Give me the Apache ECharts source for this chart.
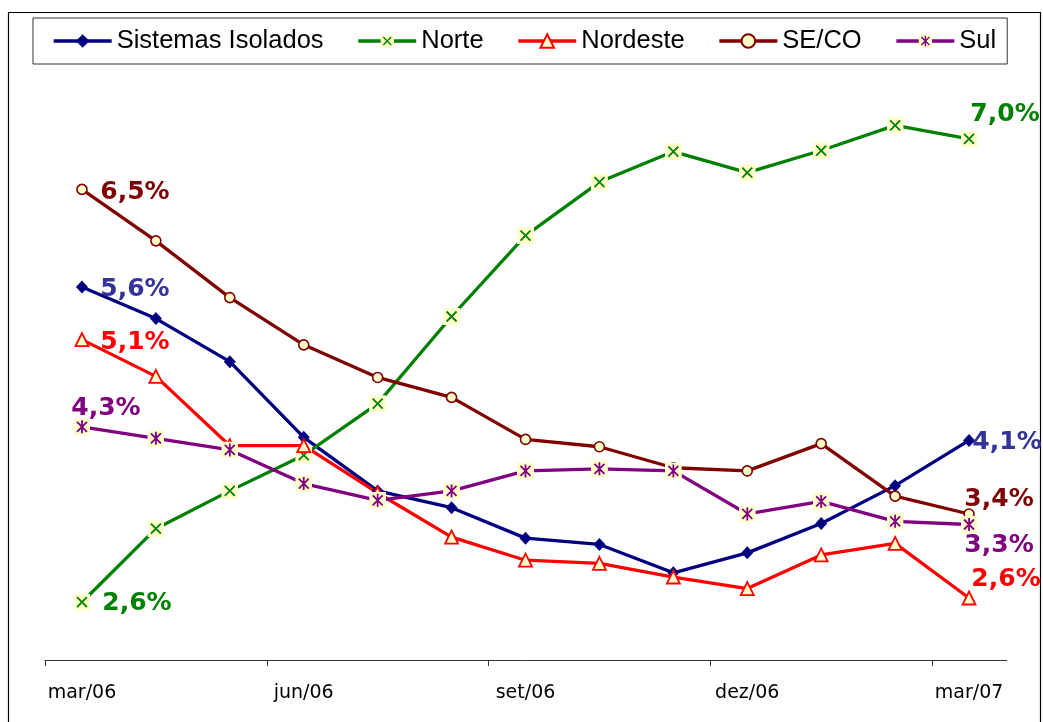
<!DOCTYPE html>
<html>
<head>
<meta charset="utf-8">
<script src="https://cdn.jsdelivr.net/npm/echarts@6/dist/echarts.min.js"></script>
<style>
html,body{margin:0;padding:0;background:#fff;}
#chart{width:1043px;height:722px;}
</style>
</head>
<body>
<div id="chart"></div>
<script>
// ---- Data ----
const categories = ['mar/06','abr/06','mai/06','jun/06','jul/06','ago/06','set/06','out/06','nov/06','dez/06','jan/07','fev/07','mar/07'];
const seriesNames = ['Sistemas Isolados','Norte','Nordeste','SE/CO','Sul'];
const sistemasIsolados = [5.60, 5.30, 4.89, 4.17, 3.66, 3.50, 3.21, 3.15, 2.88, 3.07, 3.35, 3.71, 4.14];
const norte            = [2.60, 3.30, 3.66, 4.00, 4.49, 5.32, 6.09, 6.60, 6.89, 6.69, 6.90, 7.14, 7.01];
const nordeste         = [5.10, 4.75, 4.09, 4.09, 3.64, 3.22, 3.00, 2.97, 2.84, 2.73, 3.05, 3.16, 2.64];
const seco             = [6.53, 6.04, 5.50, 5.05, 4.74, 4.55, 4.15, 4.08, 3.88, 3.85, 4.11, 3.61, 3.44];
const sul              = [4.27, 4.16, 4.05, 3.73, 3.57, 3.66, 3.85, 3.87, 3.85, 3.44, 3.56, 3.37, 3.34];

// ---- Styling ----
const FILL = '#FFFFCC';
function svgIcon(body){
  return 'image://data:image/svg+xml;charset=utf-8,' + encodeURIComponent(
    '<svg xmlns="http://www.w3.org/2000/svg" width="17" height="17" viewBox="0 0 17 17">' +
    '<rect x="0" y="0" width="17" height="17" fill="' + FILL + '"/>' + body + '</svg>');
}
const crossIcon = svgIcon('<path d="M3.5 3.5L13.5 13.5M13.5 3.5L3.5 13.5" stroke="#008000" stroke-width="1.8" fill="none"/>');
const starIcon = svgIcon('<path d="M3.5 3.5L13.5 13.5M13.5 3.5L3.5 13.5M8.5 2L8.5 15" stroke="#800080" stroke-width="1.8" fill="none"/>');

const styles = [
  {line:'#000080', label:'#333399', symbol:'diamond', size:[12,13], item:{color:'#000080'}, first:[53,2], last:[38,2]},
  {line:'#008000', label:'#008000', symbol:crossIcon, size:17, item:{color:'#008000'}, first:[55,1], last:[36,-24]},
  {line:'#FF0000', label:'#FF0000', symbol:'triangle', size:13, item:{color:FILL, borderColor:'#FF0000', borderWidth:1.8}, first:[53,3], last:[37,-19]},
  {line:'#800000', label:'#800000', symbol:'circle', size:10, item:{color:FILL, borderColor:'#800000', borderWidth:1.6}, first:[53,3], last:[30,-14]},
  {line:'#800080', label:'#800080', symbol:starIcon, size:17, item:{color:'#800080'}, first:[24,-18], last:[30,21]}
];
const values = [sistemasIsolados, norte, nordeste, seco, sul];

function fmt(v){ return v.toFixed(1).replace('.', ',') + '%'; }

const series = values.map((vals, s) => {
  const st = styles[s];
  const last = vals.length - 1;
  return {
    name: seriesNames[s],
    type: 'line',
    symbol: st.symbol,
    symbolSize: st.size,
    showAllSymbol: true,
    lineStyle: {color: st.line, width: 3.3},
    itemStyle: st.item,
    emphasis: {disabled: true},
    data: vals.map((v, i) => {
      if (i === 0 || i === last) {
        return {value: v, label: {show: true, position: 'inside', offset: i === 0 ? st.first : st.last,
          formatter: p => fmt(p.value), color: st.label, fontFamily: 'DejaVu Sans', fontWeight: 'bold', fontSize: 25}};
      }
      return v;
    })
  };
});

const chart = echarts.init(document.getElementById('chart'), null, {renderer: 'canvas'});
chart.setOption({
  animation: false,
  backgroundColor: '#fff',
  graphic: [{
    type: 'rect', shape: {x: 8.5, y: 12.5, width: 1032, height: 730},
    style: {fill: 'none', stroke: '#000', lineWidth: 1.2}, silent: true, z: -1
  }, {
    // hide the closing tick at the right end of the category axis (absent in the original)
    type: 'rect', shape: {x: 1002, y: 661, width: 8, height: 8},
    style: {fill: '#fff'}, silent: true, z: 100
  }],
  legend: {
    top: 18, left: 33,
    padding: [10, 11, 10, 19],
    borderColor: '#333', borderWidth: 1,
    itemWidth: 58, itemHeight: 17, itemGap: 33,
    lineStyle: {width: 3.3},
    textStyle: {fontFamily: 'Liberation Sans', fontSize: 25.5, color: '#000'},
    data: seriesNames
  },
  grid: {left: 45, right: 37, top: 77, bottom: 62, containLabel: false},
  xAxis: {
    type: 'category', data: categories, boundaryGap: true,
    axisLine: {lineStyle: {color: '#333', width: 1}},
    axisTick: {show: true, interval: 2, length: 6, alignWithLabel: false, lineStyle: {color: '#333'}},
    axisLabel: {interval: 2, fontFamily: 'DejaVu Sans', fontSize: 19, color: '#000', margin: 24},
    splitLine: {show: false}
  },
  yAxis: {
    type: 'value', min: 2.05, max: 7.6, show: false, splitLine: {show: false}
  },
  series: series
});
</script>
</body>
</html>
